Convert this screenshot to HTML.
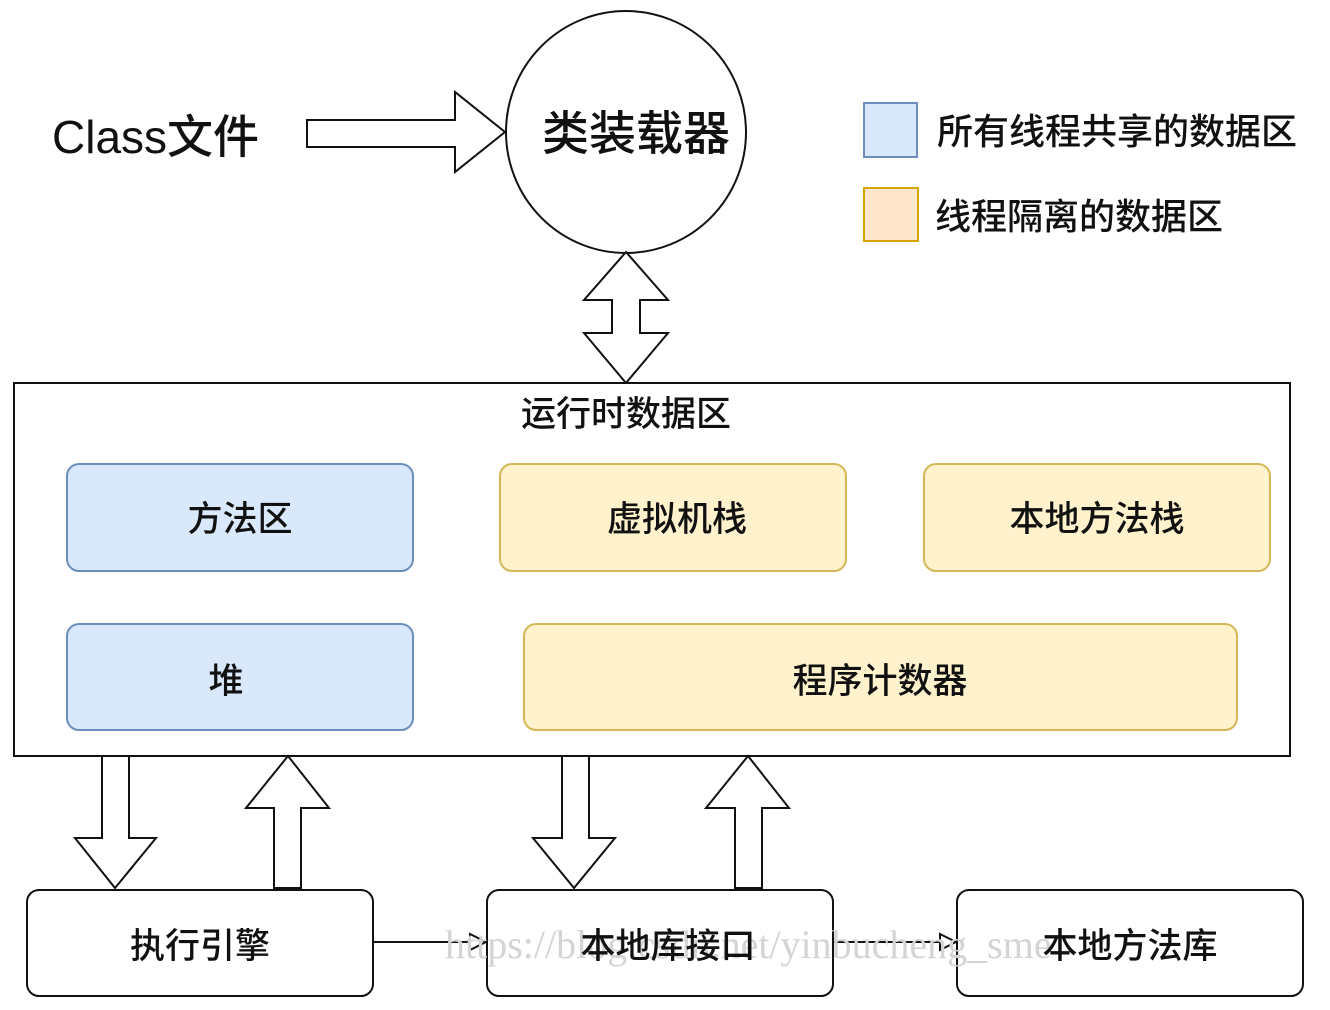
<!DOCTYPE html>
<html><head><meta charset="utf-8"><style>
html,body{margin:0;padding:0;background:#fff;}
svg{display:block;}
text{font-family:"Liberation Sans","Noto Sans CJK SC",sans-serif;fill:#111;font-weight:500;}
</style></head><body>
<svg width="1330" height="1010" viewBox="0 0 1330 1010" xmlns="http://www.w3.org/2000/svg">
<g stroke="#111" stroke-width="2" fill="#fff">
<ellipse cx="626" cy="132" rx="120" ry="121"/>
<polygon points="307,120 455,120 455,92 505,132 455,172 455,147 307,147"/>
<polygon points="626,252 668,300 640,300 640,333 668,333 626,383 584,333 612,333 612,300 584,300"/>
<rect x="14" y="383" width="1276" height="373"/>
<rect x="67" y="464" width="346" height="107" rx="12" fill="#dae8fc" stroke="#6c8ebf"/>
<rect x="500" y="464" width="346" height="107" rx="12" fill="#fff2cc" stroke="#d6b656"/>
<rect x="924" y="464" width="346" height="107" rx="12" fill="#fff2cc" stroke="#d6b656"/>
<rect x="67" y="624" width="346" height="106" rx="12" fill="#dae8fc" stroke="#6c8ebf"/>
<rect x="524" y="624" width="713" height="106" rx="12" fill="#fff2cc" stroke="#d6b656"/>
<rect x="864" y="103" width="53" height="54" fill="#dae8fc" stroke="#6c8ebf"/>
<rect x="864" y="188" width="54" height="53" fill="#ffe6cc" stroke="#d6a600"/>
<polygon points="102,756 129,756 129,838 156,838 115,888 75,838 102,838"/>
<polygon points="274,888 301,888 301,808 329,808 288,756 246,808 274,808"/>
<polygon points="562,756 589,756 589,838 615,838 574,888 533,838 562,838"/>
<polygon points="735,888 762,888 762,808 789,808 748,756 706,808 735,808"/>
<rect x="27" y="890" width="346" height="106" rx="12"/>
<rect x="487" y="890" width="346" height="106" rx="12"/>
<rect x="957" y="890" width="346" height="106" rx="12"/>
<line x1="373" y1="942" x2="470" y2="942"/>
<polygon points="470,934 486,942 470,950"/>
<line x1="833" y1="942" x2="940" y2="942"/>
<polygon points="940,934 956,942 940,950"/>
</g>
<text x="445" y="958" style="font-family:'Liberation Serif',serif;font-size:40px;fill:#d4d4d4;font-weight:normal">https://blog.csdn.net/yinbucheng_sme</text>
<text x="52" y="153" font-size="46">Class文件</text>
<text x="636" y="150" font-size="47" text-anchor="middle">类装载器</text>
<text x="937" y="144" font-size="36">所有线程共享的数据区</text>
<text x="935" y="229" font-size="36">线程隔离的数据区</text>
<text x="626" y="426" font-size="35" text-anchor="middle">运行时数据区</text>
<text x="240" y="531" font-size="35" text-anchor="middle">方法区</text>
<text x="677" y="531" font-size="35" text-anchor="middle">虚拟机栈</text>
<text x="1097" y="531" font-size="35" text-anchor="middle">本地方法栈</text>
<text x="226" y="693" font-size="35" text-anchor="middle">堆</text>
<text x="880" y="693" font-size="35" text-anchor="middle">程序计数器</text>
<text x="200" y="958" font-size="35" text-anchor="middle">执行引擎</text>
<text x="668" y="958" font-size="35" text-anchor="middle">本地库接口</text>
<text x="1130" y="958" font-size="35" text-anchor="middle">本地方法库</text>
</svg>
</body></html>
